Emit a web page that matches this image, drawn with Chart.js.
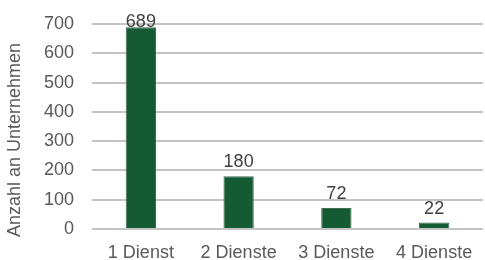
<!DOCTYPE html>
<html>
<head>
<meta charset="utf-8">
<script src="https://cdn.jsdelivr.net/npm/chart.js@4"></script>
<style>
html, body { margin: 0; padding: 0; background: #ffffff; }
#wrap { width: 485px; height: 260px; }
</style>
</head>
<body>
<div id="wrap"><canvas id="chart" width="485" height="260"></canvas></div>
<script>
const categories = ['1 Dienst', '2 Dienste', '3 Dienste', '4 Dienste'];
const counts = [689, 180, 72, 22];
const yTicks = [0, 100, 200, 300, 400, 500, 600, 700];
const yTitle = 'Anzahl an Unternehmen';

const FONT = 'Liberation Sans, Arial, sans-serif';

// y axis title, drawn rotated at the left edge
const yTitlePlugin = {
  id: 'yTitle',
  afterDraw: function(chart) {
    var ctx = chart.ctx;
    ctx.save();
    ctx.translate(15, 140);
    ctx.rotate(-Math.PI / 2);
    ctx.font = '18px ' + FONT;
    ctx.fillStyle = '#595959';
    ctx.textAlign = 'center';
    ctx.textBaseline = 'middle';
    ctx.fillText(yTitle, 0, 0);
    ctx.restore();
  }
};

// value labels above bars
const valueLabels = {
  id: 'valueLabels',
  afterDatasetsDraw: function(chart) {
    var ctx = chart.ctx;
    var meta = chart.getDatasetMeta(0);
    ctx.save();
    ctx.font = '18px ' + FONT;
    ctx.fillStyle = '#404040';
    ctx.textAlign = 'center';
    ctx.textBaseline = 'alphabetic';
    meta.data.forEach(function(bar, i) {
      var base = Math.max(bar.y - 9, chart.chartArea.top + 3);
      ctx.fillText(String(counts[i]), bar.x, base);
    });
    ctx.restore();
  }
};

new Chart(document.getElementById('chart').getContext('2d'), {
  type: 'bar',
  data: {
    labels: categories,
    datasets: [{
      data: counts,
      backgroundColor: '#145a32',
      borderColor: '#3f6e50',
      borderWidth: 1,
      barPercentage: 0.31,
      categoryPercentage: 1
    }]
  },
  options: {
    responsive: false,
    animation: false,
    layout: { padding: { left: 0, right: 2, top: 24, bottom: 0 } },
    plugins: { legend: { display: false }, tooltip: { enabled: false } },
    scales: {
      x: {
        grid: { display: false },
        border: { display: false },
        ticks: { color: '#595959', font: { family: FONT, size: 18 }, padding: 5 },
        afterFit: function(scale) { scale.height = 31; }
      },
      y: {
        min: 0,
        max: yTicks[yTicks.length - 1],
        afterBuildTicks: function(scale) { scale.ticks = yTicks.map(function(v) { return { value: v }; }); },
        grid: { color: '#c4c4c4', lineWidth: 2, drawTicks: false },
        border: { display: false },
        ticks: { color: '#595959', font: { family: FONT, size: 18 }, padding: 18 },
        afterFit: function(scale) { scale.width = 92; scale.paddingTop = 0; }
      }
    }
  },
  plugins: [yTitlePlugin, valueLabels]
});
</script>
</body>
</html>
